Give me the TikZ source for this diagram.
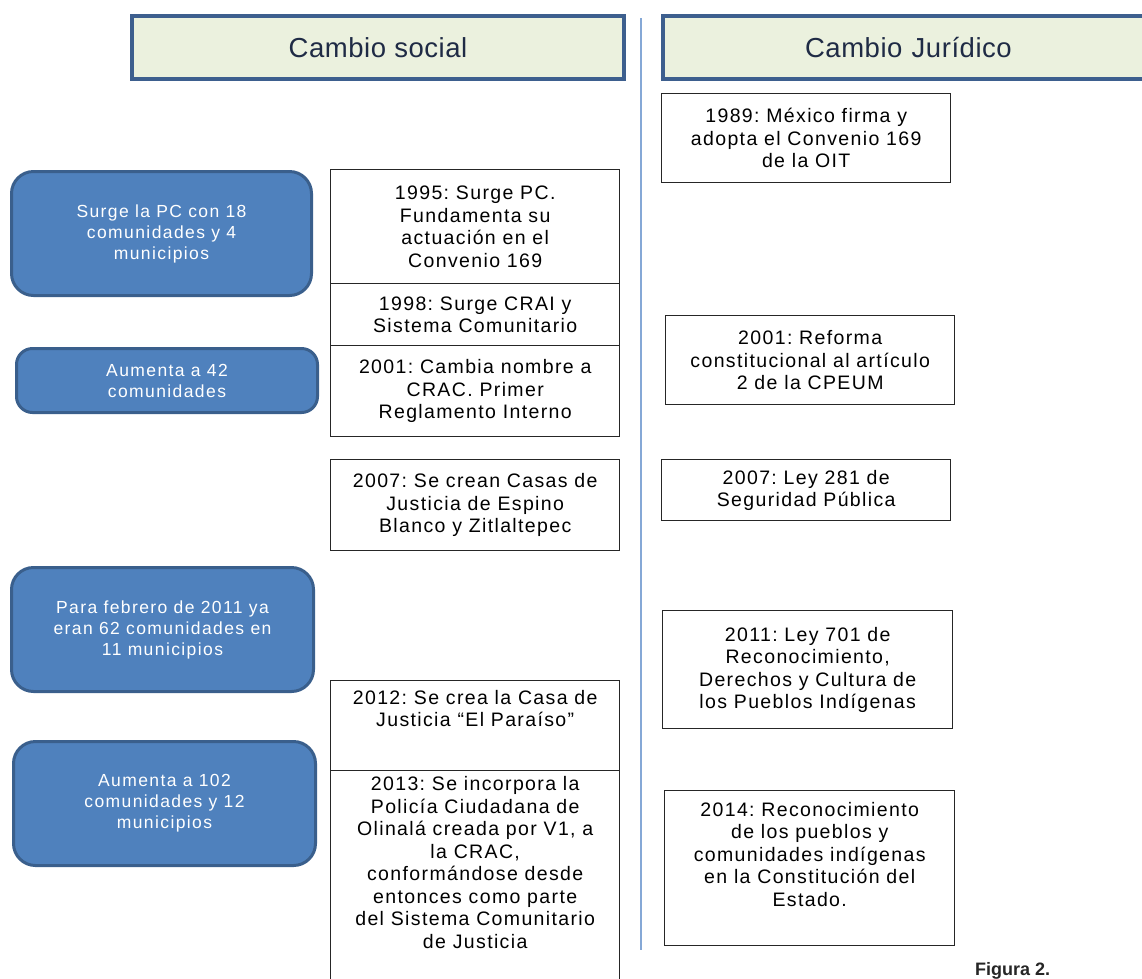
\documentclass[tikz,border=0pt]{standalone}
\usepackage{fontspec}
\setmainfont{Liberation Sans}
\newfontfamily\boxfont[LetterSpace=7]{Liberation Sans}
\newfontfamily\bluefont[LetterSpace=8]{Liberation Sans}
\newfontfamily\headfont[LetterSpace=2]{Liberation Sans}
\definecolor{hdrborder}{HTML}{3D5F8E}
\definecolor{hdrfill}{HTML}{EBF1DE}
\definecolor{hdrtext}{HTML}{1F2B45}
\definecolor{bluefill}{HTML}{4F81BD}
\definecolor{blueborder}{HTML}{3A5F8C}
\definecolor{vlinecol}{HTML}{85A8D6}
\begin{document}
\frenchspacing
\begin{tikzpicture}[x=1pt,y=-1pt,
  head/.style={draw=hdrborder, line width=4pt, fill=hdrfill, text=hdrtext,
    font=\headfont\fontsize{27.5}{30}\selectfont, anchor=north west, inner sep=0pt},
  evt/.style={draw=black!85, line width=1.4pt, fill=white, anchor=north west,
    align=center, inner sep=0pt, font=\boxfont\fontsize{19.5}{22.5}\selectfont},
  txt/.style={align=center, inner sep=0pt, anchor=north, font=\boxfont\fontsize{19.5}{22.5}\selectfont},
  bluebox/.style={draw=blueborder, line width=3pt, fill=bluefill, text=white,
    rounded corners=22pt, align=center, anchor=north west, inner sep=0pt,
    font=\bluefont\fontsize{17.5}{21}\selectfont},
  vline/.style={draw=vlinecol, line width=2.5pt}]
\useasboundingbox (0,0) rectangle (1142,978);
\clip (0,0) rectangle (1142,978);

% headers
\node[head, minimum width=492pt, minimum height=63pt] (hsoc) at (130,14) {Cambio social};
\node[head, minimum width=500pt, minimum height=63pt, text width=484pt, align=left] (hjur) at (661,14) {\hspace*{134pt}Cambio Jurídico};

% divider
\coordinate (vtop) at (641,18);
\coordinate (vbot) at (641,950);
\draw[vline] (vtop) -- (vbot);

% left rounded boxes
\node[bluebox, minimum width=300pt, minimum height=124pt] (b1) at (10,170)
  {Surge la PC con 18\\comunidades y 4\\municipios};
\node[bluebox, rounded corners=16pt, minimum width=301pt, minimum height=64pt] (b2) at (15,347)
  {Aumenta a 42\\comunidades};
\node[bluebox, minimum width=302pt, minimum height=124pt] (b3) at (10,566)
  {Para febrero de 2011 ya\\eran 62 comunidades en\\11 municipios};
\node[bluebox, minimum width=302pt, minimum height=124pt] (b4) at (12,740)
  {Aumenta a 102\\comunidades y 12\\municipios};

% middle column
\node[evt, minimum width=289pt, minimum height=114pt] (m1995) at (330,169)
  {1995: Surge PC.\\Fundamenta su\\actuación en el\\Convenio 169};
\node[evt, minimum width=289pt, minimum height=62pt] (m1998) at (330,283)
  {1998: Surge CRAI y\\Sistema Comunitario};
\node[evt, minimum width=289pt, minimum height=91pt] (m2001) at (330,345)
  {2001: Cambia nombre a\\CRAC. Primer\\Reglamento Interno};
\node[evt, minimum width=289pt, minimum height=91pt] (m2007) at (330,459)
  {2007: Se crean Casas de\\Justicia de Espino\\Blanco y Zitlaltepec};
\node[evt, minimum width=289pt, minimum height=90pt] (m2012) at (330,680) {};
\node[txt] (t2012) at ([yshift=-10pt]m2012.north)
  {2012: Se crea la Casa de\\Justicia “El Paraíso”};
\node[evt, minimum width=289pt, minimum height=218pt] (m2013) at (330,770)
  {2013: Se incorpora la\\Policía Ciudadana de\\Olinalá creada por V1, a\\la CRAC,\\conformándose desde\\entonces como parte\\del Sistema Comunitario\\de Justicia\\[12pt]};

% right column
\node[evt, minimum width=289pt, minimum height=89pt] (r1989) at (661,93)
  {1989: México firma y\\adopta el Convenio 169\\de la OIT};
\node[evt, minimum width=289pt, minimum height=89pt] (r2001) at (665,315)
  {2001: Reforma\\constitucional al artículo\\2 de la CPEUM};
\node[evt, minimum width=289pt, minimum height=61pt] (r2007) at (661,459)
  {2007: Ley 281 de\\Seguridad Pública};
\node[evt, minimum width=290pt, minimum height=118pt] (r2011) at (662,610)
  {2011: Ley 701 de\\Reconocimiento,\\Derechos y Cultura de\\los Pueblos Indígenas};
\node[evt, minimum width=290pt, minimum height=155pt] (r2014) at (664,790) {};
\node[txt] (t2014) at ([yshift=-12pt]r2014.north)
  {2014: Reconocimiento\\de los pueblos y\\comunidades indígenas\\en la Constitución del\\Estado.};

% caption
\node[anchor=base west, inner sep=0pt, font=\bfseries\fontsize{18}{20}\selectfont, text=black!85] (fig) at (975,975) {Figura 2.};
\end{tikzpicture}
\end{document}
